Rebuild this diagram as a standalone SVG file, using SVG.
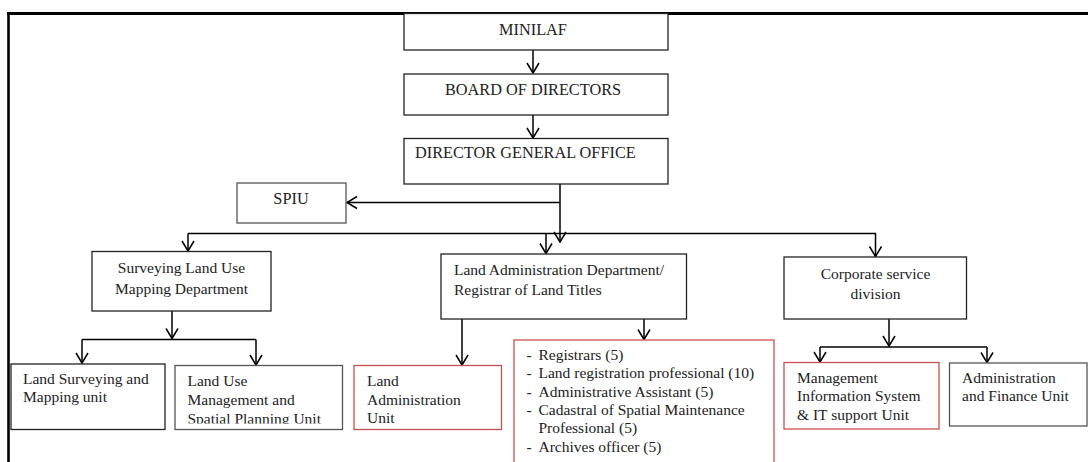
<svg xmlns="http://www.w3.org/2000/svg" width="1088" height="462" viewBox="0 0 1088 462">
  <defs>
    <marker id="chev" markerUnits="userSpaceOnUse" markerWidth="16" markerHeight="16" refX="0" refY="0" viewBox="-12 -8 14 16" orient="auto" overflow="visible">
      <path d="M-10,-6 L0,0 L-10,6" fill="none" stroke="#000" stroke-width="1.5"/>
    </marker>
    <clipPath id="clip-landuse">
      <rect x="175" y="366" width="168" height="57.5"/>
    </clipPath>
  </defs>
  <style>
    text { font-family: "Liberation Serif", "Times New Roman", serif; font-size: 15.5px; fill: #222; }
    .caps { font-size: 16.3px; }
    .mid { text-anchor: middle; }
    .box { fill: #fff; stroke: #222; stroke-width: 1.3; }
    .grey { stroke: #555; }
    .red { fill: #fff; stroke: #c9504f; stroke-width: 1.3; }
    .conn { fill: none; stroke: #000; stroke-width: 1.5; }
    .arrow { marker-end: url(#chev); }
    .frame { fill: none; stroke: #000; }
  </style>

  <rect width="1088" height="462" fill="#fff"/>

  <!-- page frame -->
  <g id="frame">
    <line class="frame" x1="7" y1="13.5" x2="1088" y2="13.5" stroke-width="3"/>
    <line class="frame" x1="8.5" y1="12" x2="8.5" y2="462" stroke-width="2.6"/>
  </g>

  <!-- connectors -->
  <g id="connectors">
    <line class="conn arrow" x1="533" y1="50" x2="533" y2="73"/>
    <line class="conn arrow" x1="533" y1="115" x2="533" y2="138"/>
    <line class="conn arrow" x1="560" y1="184" x2="560" y2="242"/>
    <line class="conn arrow" x1="560" y1="202.5" x2="347" y2="202.5"/>
    <line class="conn" x1="188" y1="233.5" x2="876" y2="233.5"/>
    <line class="conn arrow" x1="188" y1="233.5" x2="188" y2="251"/>
    <line class="conn arrow" x1="546" y1="233.5" x2="546" y2="253.5"/>
    <line class="conn arrow" x1="875.5" y1="233.5" x2="875.5" y2="256.5"/>

    <line class="conn arrow" x1="172" y1="311" x2="172" y2="338.5"/>
    <line class="conn" x1="82" y1="339.5" x2="256" y2="339.5"/>
    <line class="conn arrow" x1="82" y1="339.5" x2="82" y2="363"/>
    <line class="conn arrow" x1="256" y1="339.5" x2="256" y2="365"/>

    <line class="conn arrow" x1="462" y1="319" x2="462" y2="365"/>
    <line class="conn arrow" x1="644" y1="319" x2="644" y2="339.5"/>

    <line class="conn arrow" x1="889" y1="319" x2="889" y2="346"/>
    <line class="conn" x1="820" y1="347" x2="987" y2="347"/>
    <line class="conn arrow" x1="820" y1="347" x2="820" y2="362"/>
    <line class="conn arrow" x1="987" y1="347" x2="987" y2="362.5"/>
  </g>

  <g id="minilaf">
    <rect class="box" x="404" y="13.5" width="264" height="36.5"/>
    <text class="caps mid" x="533" y="35">MINILAF</text>
  </g>

  <g id="board">
    <rect class="box" x="404" y="74" width="264" height="41"/>
    <text class="caps mid" x="533" y="94.5">BOARD OF DIRECTORS</text>
  </g>

  <g id="director-general">
    <rect class="box" x="404" y="138.5" width="264" height="45.5"/>
    <text class="caps" x="415" y="157.5">DIRECTOR GENERAL OFFICE</text>
  </g>

  <g id="spiu">
    <rect class="box grey" x="237" y="183" width="109" height="40"/>
    <text class="caps mid" x="291" y="203.5">SPIU</text>
  </g>

  <g id="surveying-dept">
    <rect class="box" x="92" y="251.5" width="179" height="59.5"/>
    <text class="mid" x="181.5" y="273">Surveying Land Use</text>
    <text class="mid" x="181.5" y="293.5">Mapping Department</text>
  </g>

  <g id="land-surveying-unit">
    <rect class="box" x="11" y="364" width="154" height="65.5"/>
    <text x="23" y="384">Land Surveying and</text>
    <text x="23" y="402">Mapping unit</text>
  </g>

  <g id="land-use-unit">
    <rect class="box grey" x="175" y="365.5" width="167.5" height="64"/>
    <g clip-path="url(#clip-landuse)">
      <text x="187.5" y="386">Land Use</text>
      <text x="187.5" y="404.5">Management and</text>
      <text x="187.5" y="423.5">Spatial Planning Unit</text>
    </g>
  </g>

  <g id="land-admin-dept">
    <rect class="box" x="441" y="254" width="245.5" height="65"/>
    <text x="454" y="275">Land Administration Department/</text>
    <text x="454" y="295">Registrar of Land Titles</text>
  </g>

  <g id="land-admin-unit">
    <rect class="red" x="354" y="365.5" width="147.5" height="64"/>
    <text x="367" y="386">Land</text>
    <text x="367" y="404.5">Administration</text>
    <text x="367" y="423">Unit</text>
  </g>

  <g id="registry-staff">
    <rect class="red" x="514" y="340" width="260" height="130"/>
    <text x="526.5" y="360">-</text>
    <text x="538.5" y="360">Registrars (5)</text>
    <text x="526.5" y="378">-</text>
    <text x="538.5" y="378">Land registration professional (10)</text>
    <text x="526.5" y="396.5">-</text>
    <text x="538.5" y="396.5">Administrative Assistant (5)</text>
    <text x="526.5" y="415">-</text>
    <text x="538.5" y="415">Cadastral of Spatial Maintenance</text>
    <text x="538.5" y="433">Professional (5)</text>
    <text x="526.5" y="451.5">-</text>
    <text x="538.5" y="451.5">Archives officer (5)</text>
  </g>

  <g id="corporate-service">
    <rect class="box" x="784" y="257" width="182.5" height="62"/>
    <text class="mid" x="875.5" y="278.5">Corporate service</text>
    <text class="mid" x="875.5" y="298.5">division</text>
  </g>

  <g id="mis-unit">
    <rect class="red" x="784" y="362.5" width="155" height="66.5"/>
    <text x="797" y="383">Management</text>
    <text x="797" y="401">Information System</text>
    <text x="797" y="419.5">&amp; IT support Unit</text>
  </g>

  <g id="admin-finance-unit">
    <rect class="box grey" x="949.5" y="363" width="137.5" height="63"/>
    <text x="962" y="383">Administration</text>
    <text x="962" y="401">and Finance Unit</text>
  </g>
</svg>
